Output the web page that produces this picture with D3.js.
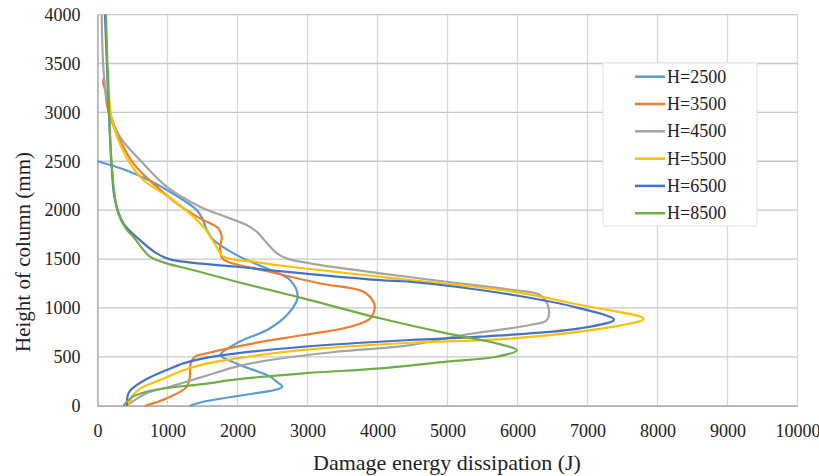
<!DOCTYPE html>
<html>
<head>
<meta charset="utf-8">
<script src="https://cdn.jsdelivr.net/npm/d3@7"></script>
<style>
  html, body { margin: 0; padding: 0; background: #fff; }
  svg { display: block; }
  text { font-family: "Liberation Serif", "DejaVu Serif", serif; fill: #222; }
</style>
</head>
<body>
<svg id="chart" width="819" height="476"></svg>
<script>
// Damage energy dissipation (J) against height along the column (mm), one curve per column height H.
const seriesNames = ["H=2500", "H=3500", "H=4500", "H=5500", "H=6500", "H=8500"];
const seriesColors = ["#5B9BD5", "#ED7D31", "#A5A5A5", "#FFC000", "#4472C4", "#70AD47"];

// [energy, height] pairs, traced from the base of the column upwards
const h2500 = [[1320,0],[1510,40],[2230,125],[2560,165],[2640,195],[2560,245],[2460,300],[1990,430],[1760,520],[1990,640],[2460,790],[2730,945],[2860,1110],[2750,1285],[2460,1390],[1990,1540],[1650,1700],[1560,1800],[1500,1910],[1420,2000],[1100,2160],[750,2300],[400,2410],[0,2500]];
const h3500 = [[680,0],[990,76],[1270,190],[1320,300],[1330,430],[1390,500],[1560,536],[2230,638],[2940,723],[3610,808],[3900,894],[3960,1000],[3950,1050],[3800,1166],[3180,1250],[2460,1370],[1870,1470],[1780,1510],[1750,1600],[1775,1730],[1726,1814],[1464,1916],[1130,2070],[845,2240],[512,2478],[274,2785],[180,2950],[130,3100],[110,3230],[80,3300],[90,3350]];
const h4500 = [[417,0],[702,127],[1036,194],[1512,297],[1988,399],[2464,467],[3417,552],[4464,620],[5226,723],[6180,825],[6420,876],[6440,1012],[6321,1132],[5940,1183],[4988,1268],[4036,1354],[3036,1456],[2700,1507],[2560,1560],[2400,1680],[2274,1780],[2131,1848],[1800,1940],[1464,2035],[988,2240],[607,2512],[321,2750],[179,2990],[120,3200],[80,3500],[60,4000]];
const h5500 = [[440,0],[500,100],[620,180],[900,265],[1179,350],[1500,420],[1988,484],[2940,570],[4464,644],[5940,689],[7370,808],[7800,890],[6893,1030],[5940,1166],[4464,1285],[4036,1319],[2750,1421],[2226,1473],[1800,1524],[1680,1650],[1512,1830],[1083,2103],[655,2308],[400,2560],[202,2940],[155,3430]];
const h6500 = [[420,0],[430,100],[460,150],[520,190],[750,290],[988,365],[1226,433],[1512,484],[1988,536],[2940,603],[4464,672],[5464,706],[6893,791],[7380,880],[6893,996],[5940,1132],[4464,1268],[4036,1285],[1988,1421],[1036,1497],[845,1558],[607,1694],[369,1865],[250,2103],[202,2444],[155,3126],[107,4000]];
const h8500 = [[370,0],[420,40],[500,90],[702,143],[1036,185],[1500,220],[1988,270],[2940,331],[4036,382],[4988,450],[5702,501],[5990,565],[5702,638],[4988,740],[4036,894],[2940,1098],[1988,1268],[1321,1395],[988,1456],[750,1524],[512,1728],[417,1800],[300,1960],[245,2150],[200,2500],[160,3100],[121,4000]];
const seriesData = [h2500, h3500, h4500, h5500, h6500, h8500];

const xTicks = [0, 1000, 2000, 3000, 4000, 5000, 6000, 7000, 8000, 9000, 10000];
const yTicks = [0, 500, 1000, 1500, 2000, 2500, 3000, 3500, 4000];
const xTitle = "Damage energy dissipation (J)";
const yTitle = "Height of column (mm)";

const svg = d3.select("#chart");
const x = d3.scaleLinear().domain([0, 10000]).range([97.5, 797.5]);
const y = d3.scaleLinear().domain([0, 4000]).range([405.7, 14.6]);

// gridlines
const grid = svg.append("g");
grid.selectAll("line.v").data(xTicks).join("line")
  .attr("x1", d => x(d)).attr("x2", d => x(d))
  .attr("y1", y(0)).attr("y2", y(4000))
  .attr("stroke", "#d9d9d9").attr("stroke-width", 1.3);
grid.selectAll("line.h").data(yTicks).join("line")
  .attr("x1", x(0)).attr("x2", x(10000))
  .attr("y1", d => y(d)).attr("y2", d => y(d))
  .attr("stroke", "#c8c8c8").attr("stroke-width", 1.3);

// axes
const xAxis = svg.append("g").attr("transform", `translate(0,${y(0)})`)
  .call(d3.axisBottom(x).tickValues(xTicks).tickSize(0).tickPadding(19).tickFormat(d3.format("d")));
const yAxis = svg.append("g").attr("transform", `translate(${x(0)},0)`)
  .call(d3.axisLeft(y).tickValues(yTicks).tickSize(0).tickPadding(17).tickFormat(d3.format("d")));
[xAxis, yAxis].forEach(a => {
  a.select(".domain").attr("stroke", "#b3b3b3").attr("stroke-width", 1.6);
  a.selectAll("text").style("font-family", '"Liberation Serif", serif').style("font-size", "18px").attr("fill", "#222");
});

// curves
const line = d3.line()
  .x(d => x(d[0])).y(d => y(d[1]))
  .curve(d3.curveCatmullRom.alpha(0.5));
svg.append("g").selectAll("path").data(seriesData).join("path")
  .attr("d", line)
  .attr("fill", "none")
  .attr("stroke", (d, i) => seriesColors[i])
  .attr("stroke-width", 2.2)
  .attr("stroke-linejoin", "round");

// axis titles
svg.append("text").attr("x", 447).attr("y", 470).attr("text-anchor", "middle")
  .style("font-size", "22px").text(xTitle);
svg.append("text").attr("transform", "translate(30,252) rotate(-90)").attr("text-anchor", "middle")
  .style("font-size", "21px").text(yTitle);

// legend
const legend = svg.append("g");
legend.append("rect").attr("x", 603).attr("y", 63).attr("width", 154).attr("height", 163)
  .attr("fill", "#fff").attr("stroke", "#e3e3e3").attr("stroke-width", 1);
const rows = legend.selectAll("g.row").data(seriesNames).join("g")
  .attr("transform", (d, i) => `translate(0,${76.7 + i * 27.3})`);
rows.append("line").attr("x1", 635).attr("x2", 665).attr("y1", 0).attr("y2", 0)
  .attr("stroke", (d, i) => seriesColors[i]).attr("stroke-width", 2.5);
rows.append("text").attr("x", 667).attr("y", 6).style("font-size", "18px").text(d => d);
</script>
</body>
</html>
